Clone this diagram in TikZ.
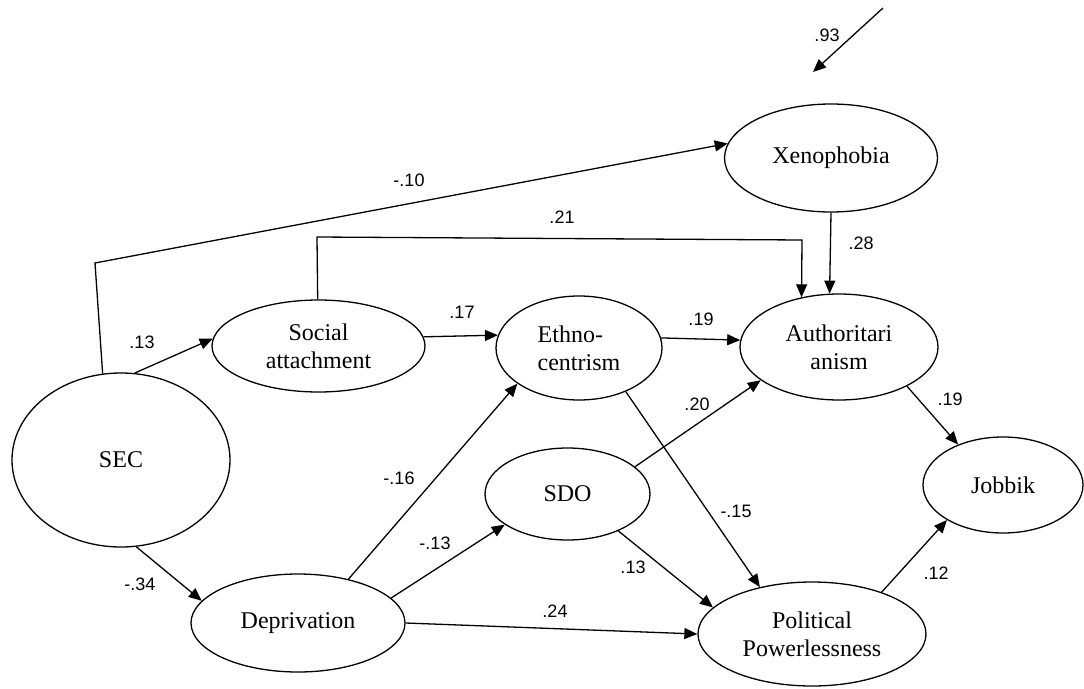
\documentclass[tikz,border=0pt]{standalone}
\usepackage{fontspec}
\setmainfont{Liberation Serif}
\newfontfamily\lblfont{Liberation Sans}
\usetikzlibrary{shapes.geometric,arrows.meta}

\tikzset{
  latent/.style={draw, ellipse, line width=1.3pt, inner sep=0pt,
    font=\fontsize{24}{28}\selectfont},
  coef/.style={font=\lblfont\fontsize{18}{20}\selectfont},
  arr/.style={line width=1.3pt, -{Triangle[length=13pt,width=11pt]}},
}

\begin{document}
\begin{tikzpicture}[x=1pt,y=-1pt]

\useasboundingbox (0,0) rectangle (1084,688);

% latent variables
\node[latent, minimum width=218pt, minimum height=174pt] (sec) at (121,460) {SEC};
\node[latent, minimum width=214pt, minimum height=98pt] (depr) at (298,623) {Deprivation};
\node[latent, minimum width=213pt, minimum height=92pt, align=center] (social) at (318.5,346) {Social\\attachment};
\node[latent, minimum width=166pt, minimum height=104pt, align=left] (ethno) at (579,348) {Ethno-\\centrism};
\node[latent, minimum width=165pt, minimum height=92pt] (sdo) at (567.5,494) {SDO\hspace{28pt}};
\node[latent, minimum width=198pt, minimum height=106pt, align=center] (auth) at (839,347) {Authoritari\\anism};
\node[latent, minimum width=213pt, minimum height=108pt] (xeno) at (831,158) {Xenophobia};
\node[latent, minimum width=160pt, minimum height=96pt] (jobbik) at (1003,485) {Jobbik};
\node[latent, minimum width=228pt, minimum height=104pt, align=center] (polpow) at (812,634) {Political\\Powerlessness};

\coordinate (err1) at (883,8);
\coordinate (err2) at (813,72);
\coordinate (bend) at (95,263);
\coordinate (top21l) at (317,237);
\coordinate (top21r) at (802,240);

% paths
\draw[arr] (err1) -- (err2);
\draw[arr] (sec.102) -- (bend) -- (xeno.172);
\draw[arr] (social.91) -- (top21l) -- (top21r) -- (auth.127);
\draw[arr] (xeno.270) -- (auth.100);
\draw[arr] (sec.81) -- (social.176);
\draw[arr] (sec.280) -- (depr.167);
\draw[arr] (social.5) -- (ethno.171);
\draw[arr] (ethno.7) -- (auth.176);
\draw[arr] (ethno.-43) -- (polpow.138);
\draw[arr] (depr.41) -- (ethno.210);
\draw[arr] (depr.15) -- (sdo.206);
\draw[arr] (depr.0) -- (polpow.180);
\draw[arr] (sdo.22) -- (auth.203);
\draw[arr] (sdo.-36) -- (polpow.165);
\draw[arr] (auth.-30) -- (jobbik.138);
\draw[arr] (polpow.31) -- (jobbik.212);

% coefficients
\node[coef] (c93) at (827,35) {.93};
\node[coef] (c10) at (409,180) {-.10};
\node[coef] (c21) at (562,217) {.21};
\node[coef] (c28) at (861,243) {.28};
\node[coef] (c13a) at (142,342) {.13};
\node[coef] (c17) at (462,312) {.17};
\node[coef] (c19a) at (701,319) {.19};
\node[coef] (c20) at (697,404) {.20};
\node[coef] (c15) at (736,511) {-.15};
\node[coef] (c16) at (399,478) {-.16};
\node[coef] (c13b) at (435,543) {-.13};
\node[coef] (c24) at (555,611) {.24};
\node[coef] (c13c) at (633,567) {.13};
\node[coef] (c34) at (140,584) {-.34};
\node[coef] (c19b) at (950,399) {.19};
\node[coef] (c12) at (936,573) {.12};

\end{tikzpicture}
\end{document}
